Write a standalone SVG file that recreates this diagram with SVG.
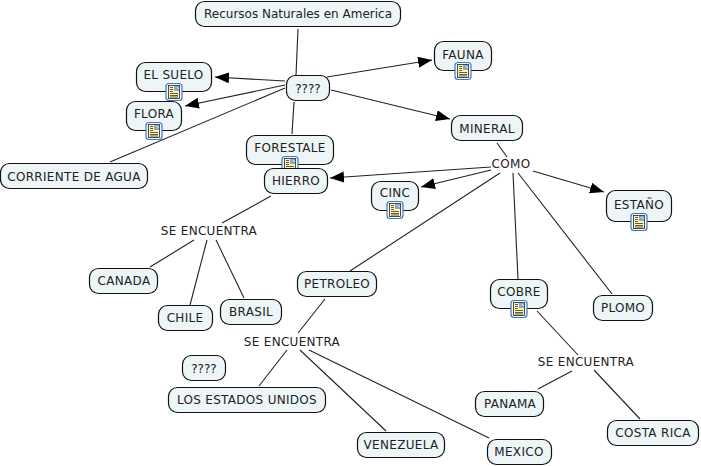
<svg xmlns="http://www.w3.org/2000/svg" width="701" height="466" viewBox="0 0 701 466">
<style>
text{font-family:"DejaVu Sans",Verdana,sans-serif;font-size:12px;fill:#222;text-anchor:middle;letter-spacing:.3px}
.t{letter-spacing:0}
.n{fill:#edf5f7;stroke:#111;stroke-width:1.2}
.c line{stroke:#222;stroke-width:1.1}
</style>
<defs>
<marker id="a" markerUnits="userSpaceOnUse" markerWidth="16" markerHeight="12" refX="14" refY="5.500" orient="auto"><path d="M0 0L14 5.500L0 11z" fill="#000"/></marker>
<g id="i"><rect x="-8" y="-8.500" width="16" height="17" rx="3" fill="#f4f8fd" stroke="#3d78c8" stroke-width="1.2"/><rect x="-5.500" y="-6.500" width="11" height="13" fill="#fdf6b0" stroke="#222" stroke-width=".8"/><rect x="0" y="-6" width="5" height="5" fill="#8fa8c8"/><path d="M3-5l2 2" stroke="#e8eef5"/><path d="M-4-4.500h3M-4-2.500h3M-4-.5h3M-4 1.500h8M-4 3.500h8M-4 5h8" stroke="#333" stroke-width=".8"/></g>
</defs>
<rect width="701" height="466" fill="#fff"/>
<g class="c">
<line x1="298" y1="29" x2="296" y2="75"/>
<line x1="285" y1="81" x2="215" y2="77" marker-end="url(#a)"/>
<line x1="285" y1="85" x2="185" y2="106" marker-end="url(#a)"/>
<line x1="285" y1="88" x2="110" y2="162"/>
<line x1="294" y1="102" x2="292" y2="134"/>
<line x1="327" y1="77" x2="432" y2="60" marker-end="url(#a)"/>
<line x1="331" y1="90" x2="450" y2="119" marker-end="url(#a)"/>
<line x1="497" y1="143" x2="507" y2="157"/>
<line x1="491" y1="167" x2="330" y2="178" marker-end="url(#a)"/>
<line x1="491" y1="170" x2="421" y2="187" marker-end="url(#a)"/>
<line x1="500" y1="173" x2="350" y2="271"/>
<line x1="513" y1="173" x2="518" y2="279"/>
<line x1="518" y1="173" x2="612" y2="294"/>
<line x1="533" y1="171" x2="604" y2="192" marker-end="url(#a)"/>
<line x1="271" y1="196" x2="222" y2="223"/>
<line x1="194" y1="240" x2="150" y2="267"/>
<line x1="207" y1="240" x2="190" y2="305"/>
<line x1="216" y1="240" x2="244" y2="298"/>
<line x1="325" y1="299" x2="298" y2="333"/>
<line x1="287" y1="350" x2="259" y2="386"/>
<line x1="300" y1="350" x2="386" y2="431"/>
<line x1="309" y1="350" x2="489" y2="438"/>
<line x1="537" y1="311" x2="578" y2="355"/>
<line x1="572" y1="371" x2="538" y2="389"/>
<line x1="594" y1="370" x2="640" y2="419"/>
</g>
<g id="recursos"><rect class="n" x="195.500" y="1.500" width="205" height="25" rx="9"/><text class="t" x="298" y="18">Recursos Naturales en America</text></g>
<g id="q1"><rect class="n" x="286.500" y="75.500" width="43" height="25" rx="9"/><text class="t" x="308" y="93">????</text></g>
<g id="fauna"><rect class="n" x="434.500" y="41.500" width="57" height="29" rx="9"/><text x="463" y="59">FAUNA</text><use href="#i" x="463" y="71"/></g>
<g id="suelo"><rect class="n" x="136.500" y="62.500" width="75" height="29" rx="9"/><text x="173.500" y="79">EL SUELO</text><use href="#i" x="174" y="92"/></g>
<g id="flora"><rect class="n" x="126.500" y="101.500" width="55" height="29" rx="9"/><text x="154" y="118">FLORA</text><use href="#i" x="154" y="131"/></g>
<g id="corriente"><rect class="n" x="0.500" y="163.500" width="147" height="25" rx="9"/><text x="74" y="181">CORRIENTE DE AGUA</text></g>
<g id="forestale"><rect class="n" x="246.500" y="135.500" width="87" height="29" rx="9"/><text x="290" y="152">FORESTALE</text><use href="#i" x="290" y="165"/></g>
<g id="hierro"><rect class="n" x="264.500" y="168.500" width="63" height="25" rx="9"/><text x="296" y="185">HIERRO</text></g>
<g id="mineral"><rect class="n" x="451.500" y="115.500" width="71" height="25" rx="9"/><text x="487" y="133">MINERAL</text></g>
<g id="como"><text x="511" y="168">COMO</text></g>
<g id="cinc"><rect class="n" x="371.500" y="181.500" width="47" height="29" rx="9"/><text x="395" y="197">CINC</text><use href="#i" x="395" y="210"/></g>
<g id="estano"><rect class="n" x="606.500" y="190.500" width="65" height="31" rx="9"/><text x="639" y="209">ESTAÑO</text><use href="#i" x="639" y="222"/></g>
<g id="se1"><text x="209" y="235">SE ENCUENTRA</text></g>
<g id="canada"><rect class="n" x="89.500" y="268.500" width="68" height="25" rx="9"/><text x="124" y="285">CANADA</text></g>
<g id="chile"><rect class="n" x="158.500" y="305.500" width="54" height="25" rx="9"/><text x="185" y="322">CHILE</text></g>
<g id="brasil"><rect class="n" x="220.500" y="299.500" width="61" height="25" rx="9"/><text x="251" y="316">BRASIL</text></g>
<g id="petroleo"><rect class="n" x="297.500" y="271.500" width="79" height="25" rx="9"/><text x="337" y="288">PETROLEO</text></g>
<g id="cobre"><rect class="n" x="490.500" y="279.500" width="57" height="29" rx="9"/><text x="519" y="296">COBRE</text><use href="#i" x="519" y="309"/></g>
<g id="plomo"><rect class="n" x="593.500" y="295.500" width="59" height="25" rx="9"/><text x="623" y="312">PLOMO</text></g>
<g id="se2"><text x="292" y="346">SE ENCUENTRA</text></g>
<g id="q2"><rect class="n" x="182.500" y="355.500" width="43" height="25" rx="9"/><text class="t" x="204" y="373">????</text></g>
<g id="eeuu"><rect class="n" x="168.500" y="387.500" width="157" height="25" rx="9"/><text x="247" y="404">LOS ESTADOS UNIDOS</text></g>
<g id="venezuela"><rect class="n" x="357.500" y="432.500" width="87" height="25" rx="9"/><text x="401" y="449">VENEZUELA</text></g>
<g id="mexico"><rect class="n" x="487.500" y="439.500" width="64" height="25" rx="9"/><text x="519" y="456">MEXICO</text></g>
<g id="se3"><text x="586" y="366">SE ENCUENTRA</text></g>
<g id="panama"><rect class="n" x="475.500" y="391.500" width="68" height="25" rx="9"/><text x="510" y="408">PANAMA</text></g>
<g id="costa"><rect class="n" x="607.500" y="420.500" width="91" height="25" rx="9"/><text x="653" y="437">COSTA RICA</text></g>
</svg>
